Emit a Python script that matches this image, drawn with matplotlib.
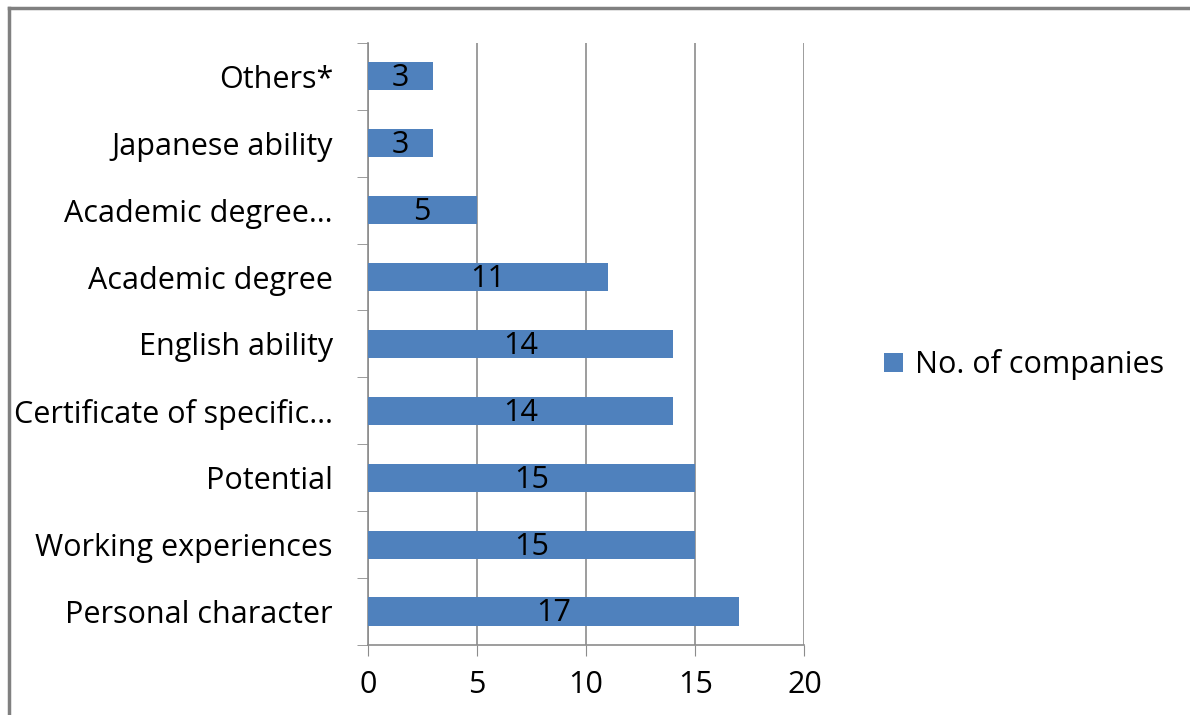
import matplotlib.pyplot as plt
from matplotlib.lines import Line2D

categories = ['Personal character', 'Working experiences', 'Potential',
              'Certificate of specific\u2026', 'English ability', 'Academic degree',
              'Academic degree\u2026', 'Japanese ability', 'Others*']
values = [17, 15, 15, 14, 14, 11, 5, 3, 3]
series_name = 'No. of companies'
xticks = [0, 5, 10, 15, 20]

plt.rcParams['font.family'] = ['Open Sans', 'DejaVu Sans']
fs = 22
bar_color = '#4F81BD'
grid_color = '#8C8C8C'

fig = plt.figure(figsize=(11.9, 7.15), dpi=100)
ax = fig.add_axes([0.309, 0.098, 0.367, 0.842])

y = range(len(categories))
bars = ax.barh(y, values, height=0.42, color=bar_color, label=series_name, zorder=3)
for b, v in zip(bars, values):
    ax.text(v / 2, b.get_y() + b.get_height() / 2 - 0.03, str(v), ha='center', va='center',
            fontsize=fs, color='black', zorder=4)

ax.set_xlim(0, 20)
ax.set_ylim(-0.5, len(categories) - 0.5)
ax.set_xticks(xticks)
ax.set_xticklabels([str(t) for t in xticks], fontsize=fs)
ax.set_yticks(list(y))
ax.set_yticklabels(categories, fontsize=fs)
ax.tick_params(axis='y', length=0, pad=25)
ax.tick_params(axis='x', length=8, color=grid_color, pad=10)
# category boundary ticks on y axis
ax.set_yticks([i - 0.5 for i in range(len(categories) + 1)], minor=True)
ax.tick_params(axis='y', which='minor', length=8, color=grid_color)

ax.grid(axis='x', color=grid_color, linewidth=1.2, zorder=0)
for s in ['top', 'right']:
    ax.spines[s].set_visible(False)
for s in ['left', 'bottom']:
    ax.spines[s].set_color(grid_color)
    ax.spines[s].set_linewidth(1.2)

leg = fig.legend(loc='center left', bbox_to_anchor=(0.72, 0.49), frameon=False,
                 fontsize=fs, handlelength=0.6, handleheight=0.6, handletextpad=0.4)

# outer chart border (left and top only visible)
fig.add_artist(Line2D([0.0072, 0.0072], [0, 0.9895], color='#808080', linewidth=2.5))
fig.add_artist(Line2D([0.0072, 1], [0.9895, 0.9895], color='#808080', linewidth=2.5))

fig.savefig('out.png', dpi=100, facecolor='white')
